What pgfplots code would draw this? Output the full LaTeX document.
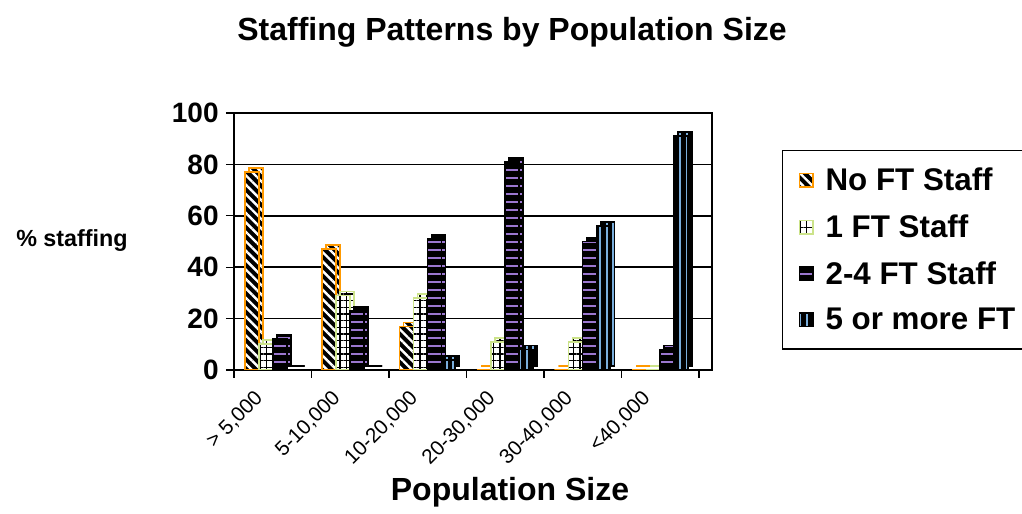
\documentclass[border=0pt]{standalone}
\usepackage{pgfplots}
\pgfplotsset{compat=1.18}
\usepackage{fontspec}
\setmainfont{Liberation Sans}
\usetikzlibrary{patterns.meta}
\definecolor{orng}{HTML}{FF9900}
\definecolor{lgreen}{HTML}{CCE38A}
\definecolor{purp}{HTML}{9B77CF}
\definecolor{lblue}{HTML}{7AAEDC}
\pgfplotsset{
  sA/.style={draw=orng, line width=1.2pt, preaction={fill=black}, pattern={Lines[angle=-45,distance=5pt,line width=1.8pt]}, pattern color=white},
  sB/.style={draw=lgreen, line width=1.2pt, preaction={fill=white}, pattern={Hatch[distance=5pt,line width=0.9pt]}, pattern color=black},
  sC/.style={draw=black, line width=1.2pt, preaction={fill=black}, pattern={Lines[angle=0,distance=6pt,line width=1.6pt]}, pattern color=purp},
  sD/.style={draw=black, line width=1.2pt, preaction={fill=black}, pattern={Lines[angle=90,distance=5pt,line width=1.5pt]}, pattern color=lblue},
  shadow/.style={xshift=3pt, yshift=3pt, forget plot},
}
\pgfplotstableread{
x A B C D
0 77 10 12 0
1 47 29 23 0
2 17 28 51 4
3 0 11 81 8
4 0 11 50 56
5 0 0 8 91
}\datatable
\begin{document}
\begin{tikzpicture}[x=1pt,y=1pt]
\path[use as bounding box] (0,0) rectangle (766.5,385.5);
\node[font=\fontsize{24}{28}\selectfont\bfseries] at (384,361.5) {Staffing Patterns by Population Size};
\node[font=\fontsize{17.5}{20}\selectfont\bfseries] at (54,205) {\% staffing};
\node[font=\fontsize{24}{28}\selectfont\bfseries] at (382.5,16.5) {Population Size};
\begin{axis}[
  at={(175.5pt,108pt)}, anchor=south west,
  scale only axis, width=358.5pt, height=192.75pt,
  xmin=-0.5, xmax=5.67, ymin=0, ymax=100,
  ybar=0pt, bar width=10.5pt,
  axis line style={black, line width=1.1pt},
  ymajorgrids, grid style={black, line width=1.1pt},
  ytick={0,20,...,100},
  tick pos=left,
  tick align=outside, major tick length=6pt, minor tick length=6pt,
  tick style={black, line width=1pt},
  /pgf/number format/assume math mode=true,
  yticklabel style={font=\fontsize{21}{24}\selectfont\bfseries, xshift=-2pt},
  xtick={0,...,5},
  xticklabels={{> 5,000},{5-10,000},{10-20,000},{20-30,000},{30-40,000},{<40,000}},
  major x tick style={draw=none},
  minor xtick={-0.5,0.5,1.5,2.5,3.5,4.5,5.5},
  minor x tick style={draw=black, line width=1pt},
  xticklabel style={font=\fontsize{15.5}{17}\selectfont, xshift=-14.5pt, yshift=-3.5pt, rotate=45, anchor=north east},
  legend style={at={(1.1464,0.856)}, anchor=north west, draw=black, line width=1pt,
    font=\fontsize{23.5}{26}\selectfont\bfseries, row sep=12.5pt, inner xsep=12pt, inner ysep=11pt,
    /tikz/every odd column/.append style={column sep=7pt}},
  legend cell align=left,
  legend image code/.code={\draw[#1, line width=1.2pt] (0pt,-5pt) rectangle (10pt,5pt);},
]
\addplot[sA, shadow, bar shift=-15.75pt] table[x=x, y=A] {\datatable};
\addplot[sA, bar shift=-15.75pt] table[x=x, y=A] {\datatable};
\addplot[sB, shadow, bar shift=-5.25pt] table[x=x, y=B] {\datatable};
\addplot[sB, bar shift=-5.25pt] table[x=x, y=B] {\datatable};
\addplot[sC, shadow, bar shift=5.25pt] table[x=x, y=C] {\datatable};
\addplot[sC, bar shift=5.25pt] table[x=x, y=C] {\datatable};
\addplot[sD, shadow, bar shift=15.75pt] table[x=x, y=D] {\datatable};
\addplot[sD, bar shift=15.75pt] table[x=x, y=D] {\datatable};
\legend{No FT Staff, 1 FT Staff, 2-4 FT Staff, 5 or more FT}
\end{axis}
\end{tikzpicture}
\end{document}
